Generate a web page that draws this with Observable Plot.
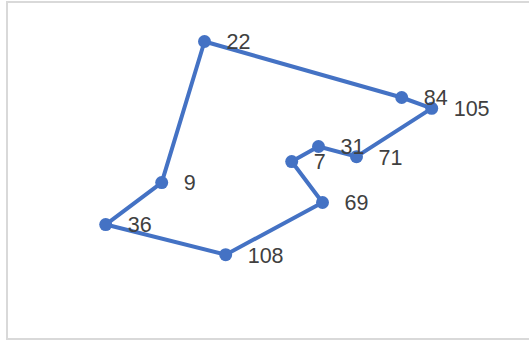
<!DOCTYPE html>
<html>
<head>
<meta charset="utf-8">
<script src="https://cdn.jsdelivr.net/npm/d3@7"></script>
<script src="https://cdn.jsdelivr.net/npm/@observablehq/plot@0.6"></script>
<style>
  html, body { margin: 0; padding: 0; background: #fff; overflow: hidden; }
  #frame { position: absolute; left: 6px; top: 1px; width: 540px; height: 335px; border: 2px solid #d9d9d9; }
  #chart { position: absolute; left: 0; top: 0; }
</style>
</head>
<body>
<div id="frame"></div>
<div id="chart"></div>
<script>
// Point labels, in the order the line visits them
const labels = [22, 84, 105, 71, 31, 7, 69, 108, 36, 9];
// X values (estimated)
const xs = [4.35, 9.28, 10.03, 8.15, 7.2, 6.53, 7.3, 4.88, 1.88, 3.28];
// Y values (estimated)
const ys = [7.4, 5.8, 5.49, 4.11, 4.4, 3.97, 2.8, 1.31, 2.17, 3.37];

const data = labels.map((l, i) => ({label: l, x: xs[i], y: ys[i]}));
const path = [...data, data[0]];

const chart = Plot.plot({
  width: 529,
  height: 341,
  marginLeft: 30,
  marginRight: 19,
  marginTop: 20,
  marginBottom: 41,
  x: {domain: [0, 12], axis: null},
  y: {domain: [0, 8], axis: null},
  style: {background: "transparent"},
  marks: [
    Plot.line(path, {x: "x", y: "y", stroke: "#4472C4", strokeWidth: 4, curve: "linear"}),
    Plot.dot(data, {x: "x", y: "y", r: 6.5, fill: "#4472C4", stroke: "none"}),
    Plot.text(data, {x: "x", y: "y", text: d => String(d.label), dx: 22, dy: 1, textAnchor: "start",
      fill: "#404040", fontSize: 21.5, fontFamily: "Liberation Sans, Arial, sans-serif"})
  ]
});
document.getElementById("chart").appendChild(chart);
</script>
</body>
</html>
